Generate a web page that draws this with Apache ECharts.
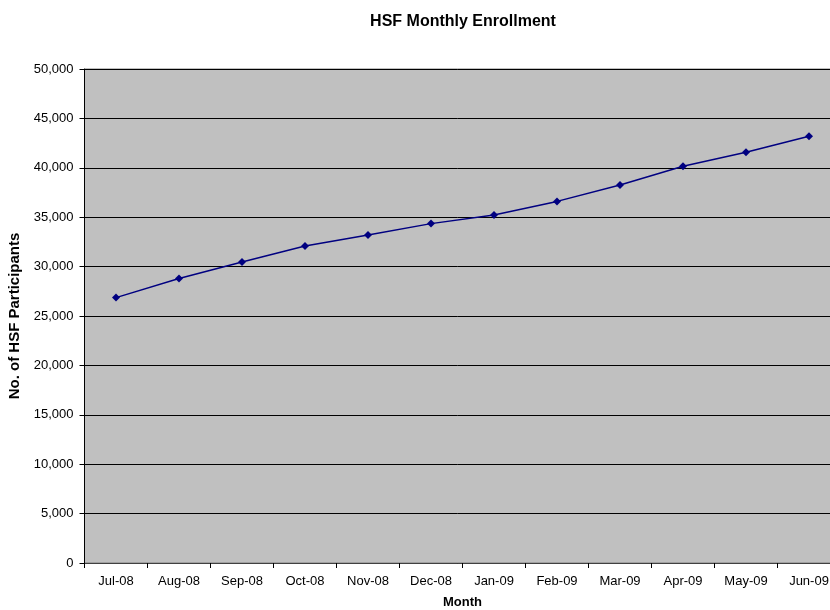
<!DOCTYPE html>
<html>
<head>
<meta charset="utf-8">
<script src="https://cdn.jsdelivr.net/npm/echarts@6/dist/echarts.min.js"></script>
<style>html,body{margin:0;padding:0;background:#fff}#c{width:830px;height:610px}</style>
</head>
<body>
<div id="c"></div>
<script>
var months = ['Jul-08','Aug-08','Sep-08','Oct-08','Nov-08','Dec-08','Jan-09','Feb-09','Mar-09','Apr-09','May-09','Jun-09'];
var participants = [26860, 28800, 30470, 32090, 33200, 34350, 35220, 36600, 38260, 40150, 41570, 43190];
var yTicks = [0, 5000, 10000, 15000, 20000, 25000, 30000, 35000, 40000, 45000, 50000];

var chart = echarts.init(document.getElementById('c'), null, {renderer: 'canvas'});
var font = 'Liberation Sans, Arial, sans-serif';
chart.setOption({
  animation: false,
  backgroundColor: '#ffffff',
  title: {
    text: 'HSF Monthly Enrollment',
    left: 458, top: 9, textAlign: 'center',
    textStyle: {fontFamily: font, fontSize: 16, fontWeight: 'bold', color: '#000'}
  },
  grid: {
    left: 84.5, width: 756, top: 69, height: 494,
    outerBoundsMode: 'none',
    containLabel: false,
    show: true, backgroundColor: '#c0c0c0', borderColor: '#808080', borderWidth: 1
  },
  xAxis: {
    type: 'category',
    data: months,
    boundaryGap: true,
    name: 'Month',
    nameLocation: 'middle',
    nameGap: 33,
    nameTextStyle: {fontFamily: font, fontSize: 13, fontWeight: 'bold', color: '#000'},
    axisLine: {lineStyle: {color: '#404040', width: 1}},
    axisTick: {show: true, interval: 0, length: 5, lineStyle: {color: '#000'}},
    axisLabel: {interval: 0, fontFamily: font, fontSize: 13, color: '#000', margin: 12, hideOverlap: false},
    splitLine: {show: false}
  },
  yAxis: {
    type: 'value',
    min: yTicks[0], max: yTicks[yTicks.length - 1], interval: 5000,
    name: 'No. of HSF Participants',
    nameLocation: 'middle',
    nameGap: 59,
    nameTextStyle: {fontFamily: font, fontSize: 15, fontWeight: 'bold', color: '#000'},
    axisLine: {show: true, lineStyle: {color: '#000', width: 1}},
    axisTick: {show: true, length: 5, lineStyle: {color: '#000'}},
    axisLabel: {
      fontFamily: font, fontSize: 13, color: '#000', margin: 11,
      formatter: function (v) { return v.toLocaleString('en-US'); }
    },
    splitLine: {show: true, lineStyle: {color: '#000', width: 1}}
  },
  series: [{
    type: 'line',
    data: participants,
    symbol: 'diamond',
    symbolSize: 8,
    lineStyle: {color: '#000080', width: 1.5},
    itemStyle: {color: '#000080'}
  }]
});
</script>
</body>
</html>
